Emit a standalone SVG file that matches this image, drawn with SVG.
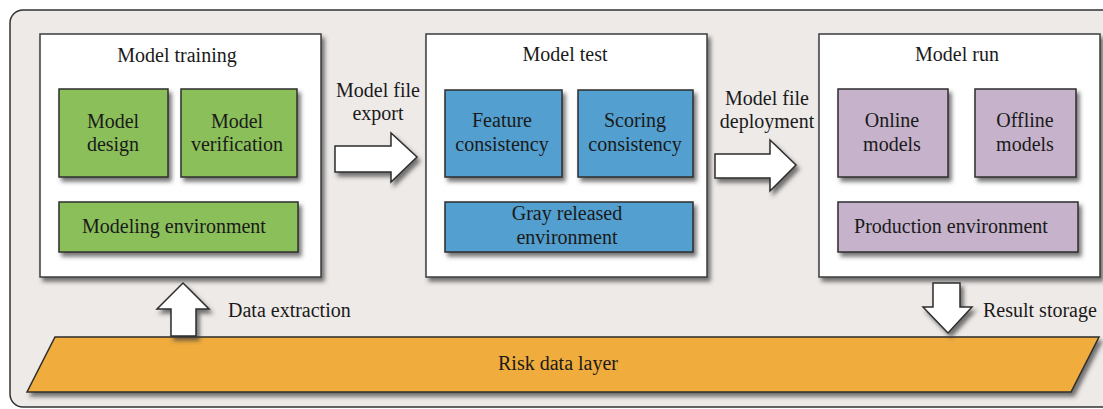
<svg xmlns="http://www.w3.org/2000/svg" width="1103" height="409" viewBox="0 0 1103 409">
<defs>
<filter id="sh" x="-10%" y="-10%" width="125%" height="130%">
<feDropShadow dx="3" dy="4" stdDeviation="2" flood-color="#3a3a3a" flood-opacity="0.7"/>
</filter>
<style>
text{font-family:"Liberation Serif","Times New Roman",serif;fill:#1a1a1a;text-anchor:middle;font-size:20px}
.panel{fill:#ffffff;stroke:#3c3c3c;stroke-width:1.5;filter:url(#sh)}
.g{fill:#8bbf5a;stroke:#2e2e2e;stroke-width:1.5;filter:url(#sh)}
.b{fill:#529fcf;stroke:#2e2e2e;stroke-width:1.5;filter:url(#sh)}
.p{fill:#c6b3cb;stroke:#2e2e2e;stroke-width:1.5;filter:url(#sh)}
.arr{fill:#ffffff;stroke:#2e2e2e;stroke-width:1.5;filter:url(#sh)}
.lbl{font-size:20px}
</style>
</defs>
<rect x="0" y="0" width="1103" height="409" fill="#ffffff"/>
<rect id="frame" x="10" y="10" width="1110" height="397" rx="13" fill="#eeeae8" stroke="#333" stroke-width="1.5"/>

<g id="model-training">
<rect class="panel" x="40" y="34" width="281" height="243"/>
<text x="177" y="62">Model training</text>
<g id="model-design"><rect class="g" x="59" y="89" width="109" height="88"/>
<text x="113" y="128">Model</text><text x="113" y="151">design</text></g>
<g id="model-verification"><rect class="g" x="181" y="89" width="116" height="88"/>
<text x="237" y="128">Model</text><text x="237" y="151">verification</text></g>
<g id="modeling-environment"><rect class="g" x="59" y="202" width="239" height="50"/>
<text x="174" y="233">Modeling environment</text></g>
</g>

<g id="model-test">
<rect class="panel" x="426" y="34" width="281" height="243"/>
<text x="565" y="61">Model test</text>
<g id="feature-consistency"><rect class="b" x="445" y="90" width="117" height="87"/>
<text x="502" y="127">Feature</text><text x="502" y="151">consistency</text></g>
<g id="scoring-consistency"><rect class="b" x="578" y="90" width="115" height="87"/>
<text x="635" y="127">Scoring</text><text x="635" y="151">consistency</text></g>
<g id="gray-released"><rect class="b" x="445" y="202" width="248" height="50"/>
<text x="567" y="220">Gray released</text><text x="567" y="244">environment</text></g>
</g>

<g id="model-run">
<rect class="panel" x="819" y="34" width="281" height="243"/>
<text x="957" y="61">Model run</text>
<g id="online-models"><rect class="p" x="838" y="89" width="110" height="88"/>
<text x="892" y="127">Online</text><text x="892" y="151">models</text></g>
<g id="offline-models"><rect class="p" x="975" y="89" width="101" height="88"/>
<text x="1025" y="127">Offline</text><text x="1025" y="151">models</text></g>
<g id="production-environment"><rect class="p" x="838" y="202" width="240" height="50"/>
<text x="951" y="233">Production environment</text></g>
</g>

<g id="risk-data-layer">
<polygon points="55,337 1099,337 1071,392 27,392" fill="#f0ac3c" stroke="#2e2e2e" stroke-width="1.5" filter="url(#sh)"/>
<text x="558" y="370" class="lbl">Risk data layer</text>
</g>

<g id="connectors">
<polygon class="arr" points="335,146 391,146 391,133 417,157 391,182 391,172 335,172"/>
<text x="378" y="97">Model file</text><text x="378" y="120">export</text>
<polygon class="arr" points="715,154 770,154 770,140 796,165 770,191 770,178 715,178"/>
<text x="767" y="105">Model file</text><text x="767" y="128">deployment</text>
<polygon class="arr" points="183,283 209,309 196,309 196,336 171,336 171,309 157,309"/>
<text x="228" y="317" class="lbl" style="text-anchor:start">Data extraction</text>
<polygon class="arr" points="933,283 960,283 960,307 972,307 948,333 923,307 933,307"/>
<text x="983" y="317" class="lbl" style="text-anchor:start">Result storage</text>
</g>
</svg>
